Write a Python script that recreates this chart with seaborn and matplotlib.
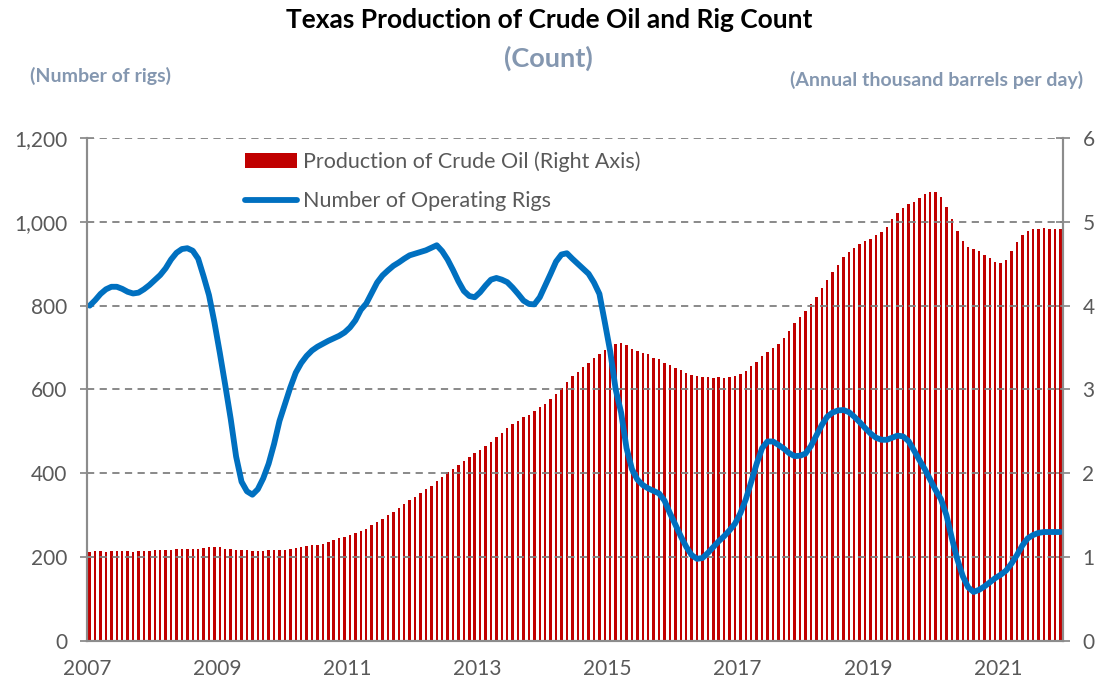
import numpy as np
import matplotlib
matplotlib.use("Agg")
import matplotlib.pyplot as plt
import matplotlib.ticker as mticker
from matplotlib.patches import Patch
from matplotlib.lines import Line2D
import seaborn as sns

# monthly data, Jan 2007 - Dec 2021
years = list(range(2007, 2023))

# Texas crude oil production (million barrels per day, right axis)
production = [
    1.065, 1.07, 1.07, 1.065, 1.07, 1.07, 1.075, 1.075, 1.065, 1.075, 1.075, 1.075,
    1.08, 1.09, 1.09, 1.09, 1.095, 1.10, 1.10, 1.10, 1.10, 1.115, 1.12, 1.12,
    1.12, 1.10, 1.095, 1.09, 1.09, 1.08, 1.075, 1.075, 1.075, 1.08, 1.08, 1.08,
    1.09, 1.095, 1.11, 1.12, 1.13, 1.14, 1.15, 1.16, 1.18, 1.21, 1.23, 1.24,
    1.26, 1.29, 1.31, 1.34, 1.38, 1.42, 1.45, 1.50, 1.54, 1.59, 1.64, 1.68,
    1.72, 1.76, 1.81, 1.85, 1.91, 1.96, 2.01, 2.05, 2.10, 2.15, 2.19, 2.24,
    2.28, 2.32, 2.37, 2.43, 2.48, 2.54, 2.59, 2.63, 2.67, 2.70, 2.74, 2.79,
    2.83, 2.89, 2.95, 3.02, 3.09, 3.16, 3.21, 3.27, 3.32, 3.37, 3.42, 3.47,
    3.51, 3.54, 3.56, 3.53, 3.48, 3.46, 3.44, 3.42, 3.38, 3.36, 3.32, 3.29,
    3.26, 3.23, 3.20, 3.17, 3.16, 3.15, 3.15, 3.14, 3.15, 3.14, 3.15, 3.16,
    3.18, 3.22, 3.28, 3.33, 3.40, 3.45, 3.49, 3.54, 3.61, 3.70, 3.79, 3.87,
    3.94, 4.02, 4.10, 4.21, 4.30, 4.40, 4.49, 4.58, 4.64, 4.69, 4.73, 4.77,
    4.80, 4.84, 4.88, 4.94, 5.03, 5.11, 5.17, 5.21, 5.24, 5.28, 5.33, 5.36,
    5.35, 5.29, 5.18, 5.03, 4.89, 4.77, 4.70, 4.67, 4.65, 4.61, 4.57, 4.52,
    4.51, 4.55, 4.65, 4.76, 4.84, 4.89, 4.91, 4.92, 4.93, 4.92, 4.92, 4.91,
]

# number of operating rigs (left axis)
rigs = [
    800, 813, 828, 839, 845, 845, 840, 833, 829, 831, 839, 849,
    861, 873, 889, 910, 926, 935, 937, 931, 912, 870, 825, 760,
    687, 610, 530, 440, 380, 357, 349, 362, 388, 423, 470, 525,
    565, 605, 640, 663, 680, 693, 702, 709, 716, 722, 728, 736,
    748, 765, 790, 805, 830, 855, 872, 884, 895, 903, 912, 920,
    924, 928, 932, 938, 944, 930, 910, 885, 858, 835, 823, 820,
    832, 848, 862, 866, 862, 856, 843, 828, 812, 804, 803, 820,
    848, 876, 905, 922, 925, 912, 900, 888, 876, 855, 828, 760,
    690, 600, 545, 460, 410, 385, 372, 364, 358, 352, 335, 305,
    278, 250, 225, 205, 196, 198, 210, 224, 238, 250, 264, 280,
    305, 338, 380, 423, 460, 476, 476, 468, 459, 448, 441, 442,
    447, 465, 490, 515, 535, 545, 550, 551, 546, 535, 522, 508,
    495, 485, 480, 480, 485, 490, 488, 477, 455, 432, 410, 385,
    360, 338, 300, 245, 195, 155, 128, 117, 122, 130, 140, 150,
    158, 168, 185, 205, 228, 245, 253, 258, 260, 260, 260, 260,
]

month_idx = np.arange(len(rigs))

red = "#C00000"
blue = "#0070C0"
gray_txt = "#595959"
axis_gray = "#8C8C8C"
note_col = "#8497B0"

sns.set_style("white")
plt.rcParams["font.family"] = ["Lato", "DejaVu Sans"]

fig = plt.figure(figsize=(11.04, 6.83), dpi=100)
ax = fig.add_axes([0.0788, 0.0615, 0.8841, 0.7365])
ax2 = ax.twinx()

# bars on right axis
sns.barplot(x=month_idx, y=production, ax=ax2, color=red, width=0.45,
            native_scale=True, saturation=1, linewidth=0)
ax2.set_ylim(0, 6)
ax2.set_yticks(range(0, 7))

# rig count line on left axis, drawn above the bars
ax.set_zorder(ax2.get_zorder() + 1)
ax.patch.set_visible(False)
sns.lineplot(x=month_idx, y=rigs, ax=ax, color=blue, linewidth=4.2,
             solid_capstyle="round", legend=False)
ax.set_ylim(0, 1200)
ax.set_yticks(range(0, 1201, 200))
ax.yaxis.set_major_formatter(mticker.FuncFormatter(lambda v, p: f"{int(v):,}"))
ax.grid(axis="y", color="#808080", linestyle=(0, (4, 3)), linewidth=1.3)
ax.set_axisbelow(True)

ax.set_xlim(-0.5, len(rigs) - 0.5)
xt = [-0.5 + 12 * k for k in range(len(years))]
ax.set_xticks(xt)
ax.set_xticklabels([str(y) if (y - 2007) % 2 == 0 else "" for y in years])

for a in (ax, ax2):
    a.set_xlabel("")
    a.set_ylabel("")
    for s in a.spines.values():
        s.set_color(axis_gray)
        s.set_linewidth(1.5)
    a.spines["top"].set_visible(False)
    a.tick_params(colors=axis_gray, labelcolor=gray_txt, labelsize=15,
                  width=1.3)
ax.tick_params(axis="x", direction="out", length=6, pad=7)
ax.tick_params(axis="y", direction="inout", length=10, pad=9)
ax2.tick_params(axis="y", direction="inout", length=10, pad=9)

handles = [Patch(facecolor=red, edgecolor="none"),
           Line2D([0], [0], color=blue, linewidth=4.2, solid_capstyle="round")]
labels = ["Production of Crude Oil (Right Axis)", "Number of Operating Rigs"]
ax.legend(handles, labels, loc="upper left", bbox_to_anchor=(0.142, 1.012),
          frameon=False, fontsize=15.5, handlelength=2.4, handleheight=0.7,
          labelspacing=0.9, handletextpad=0.3, labelcolor=gray_txt)

fig.text(0.497, 0.970, "Texas Production of Crude Oil and Rig Count",
         ha="center", va="center", fontsize=19, fontweight="bold", color="black")
fig.text(0.497, 0.915, "(Count)", ha="center", va="center", fontsize=19.5,
         fontweight="bold", color=note_col)
fig.text(0.027, 0.889, "(Number of rigs)", ha="left", va="center", fontsize=14,
         fontweight="bold", color=note_col)
fig.text(0.981, 0.883, "(Annual thousand barrels per day)", ha="right",
         va="center", fontsize=14, fontweight="bold", color=note_col)

fig.savefig("out.png", dpi=100)
